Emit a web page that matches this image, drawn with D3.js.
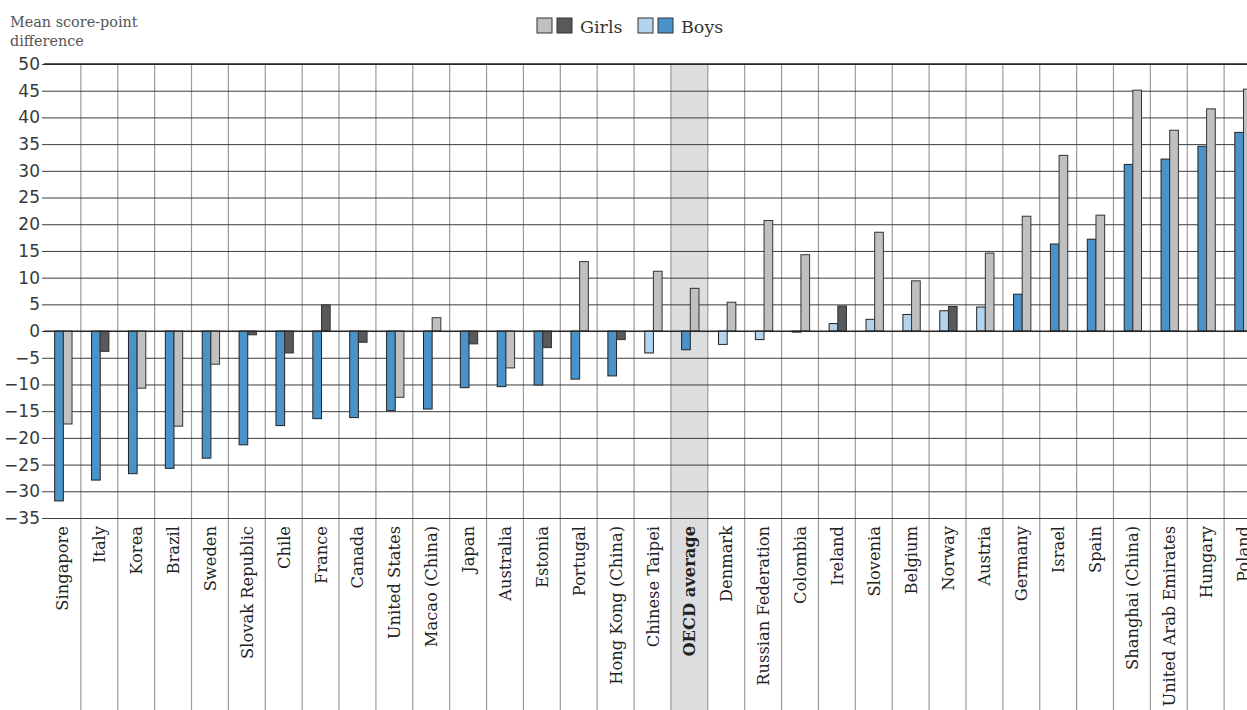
<!DOCTYPE html>
<html><head><meta charset="utf-8">
<script src="https://cdn.jsdelivr.net/npm/d3@7"></script>
<style>
html,body{margin:0;padding:0;background:#fff;overflow:hidden;}
svg{display:block;}
</style></head>
<body>
<svg id="chart" width="1247" height="710"></svg>
<script>
const countries = ["Singapore","Italy","Korea","Brazil","Sweden","Slovak Republic","Chile","France","Canada","United States","Macao (China)","Japan","Australia","Estonia","Portugal","Hong Kong (China)","Chinese Taipei","OECD average","Denmark","Russian Federation","Colombia","Ireland","Slovenia","Belgium","Norway","Austria","Germany","Israel","Spain","Shanghai (China)","United Arab Emirates","Hungary","Poland"];
const boys  = [-31.8,-27.9,-26.7,-25.7,-23.8,-21.3,-17.7,-16.4,-16.2,-14.9,-14.6,-10.6,-10.4,-10.1,-9.0,-8.4,-4.1,-3.5,-2.5,-1.6,-0.2,1.4,2.2,3.1,3.8,4.5,6.9,16.3,17.2,31.2,32.2,34.6,37.2];
const girls = [-17.4,-3.8,-10.7,-17.8,-6.2,-0.7,-4.1,4.9,-2.1,-12.4,2.5,-2.4,-6.9,-3.1,13.0,-1.6,11.2,8.0,5.4,20.7,14.3,4.7,18.5,9.4,4.6,14.6,21.5,32.9,21.7,45.1,37.6,41.6,45.3];
// 1 = dark shade, 0 = light shade
const boysDark  = [1,1,1,1,1,1,1,1,1,1,1,1,1,1,1,1,0,1,0,0,0,0,0,0,0,0,1,1,1,1,1,1,1];
const girlsDark = [0,1,0,0,0,1,1,1,1,0,0,1,0,1,0,1,0,0,0,0,0,1,0,0,1,0,0,0,0,0,0,0,0];
const yTicks = [50,45,40,35,30,25,20,15,10,5,0,-5,-10,-15,-20,-25,-30,-35];
const highlight = "OECD average";

const C = {boysDark:"#4a93c9", boysLight:"#b4d3ec", girlsDark:"#58595b", girlsLight:"#bfc0c2"};

const svg = d3.select("#chart");
const x = d3.scaleBand().domain(countries).range([44, 1261]).paddingInner(0).paddingOuter(0);
const bw = x.bandwidth();
const xs = d3.scaleBand().domain(["Boys","Girls"]).range([bw*0.29, bw*0.76]);
const y = d3.scaleLinear().domain([-35, 50]).range([518, 64]);

// highlight band
svg.append("rect").attr("x", x(highlight)).attr("y", y(50)).attr("width", bw).attr("height", 710 - y(50)).attr("fill", "#dcdddf");

// vertical gridlines
svg.append("g").selectAll("line").data(countries.slice(1).concat(["__end"])).join("line")
  .attr("x1", (d,i)=> x(countries[0]) + bw*(i+1)).attr("x2", (d,i)=> x(countries[0]) + bw*(i+1))
  .attr("y1", y(50)).attr("y2", 710)
  .attr("stroke", "#9b9b9b").attr("stroke-width", 1.2);

// horizontal gridlines via axis
const yAxis = d3.axisLeft(y).tickValues(yTicks).tickSize(-(1247-44)).tickPadding(4).tickFormat(d3.format("d"));
const ga = svg.append("g").attr("transform", "translate(44,0)").call(yAxis);
ga.select(".domain").remove();
ga.selectAll(".tick line").attr("stroke", "#3c3c3c").attr("stroke-width", 1).attr("x1", -2);
ga.selectAll(".tick text").attr("font-family", "DejaVu Sans, sans-serif").attr("font-size", 17).attr("fill", "#3a3a3a").attr("x", -4);

// bars
const rows = countries.map((c,i)=>({c, b: boys[i], g: girls[i], bd: boysDark[i], gd: girlsDark[i]}));
const gb = svg.append("g");
gb.selectAll("rect.boys").data(rows).join("rect").attr("class","boys")
  .attr("x", d=> x(d.c) + xs("Boys")).attr("width", xs.bandwidth())
  .attr("y", d=> y(Math.max(0,d.b))).attr("height", d=> Math.abs(y(d.b)-y(0)))
  .attr("fill", d=> d.bd ? C.boysDark : C.boysLight).attr("stroke", "#222").attr("stroke-width", 1);
gb.selectAll("rect.girls").data(rows).join("rect").attr("class","girls")
  .attr("x", d=> x(d.c) + xs("Girls")).attr("width", xs.bandwidth())
  .attr("y", d=> y(Math.max(0,d.g))).attr("height", d=> Math.abs(y(d.g)-y(0)))
  .attr("fill", d=> d.gd ? C.girlsDark : C.girlsLight).attr("stroke", "#333").attr("stroke-width", 1);

// zero line and top line on top
svg.append("line").attr("x1", 44).attr("x2", 1247).attr("y1", y(0)).attr("y2", y(0)).attr("stroke", "#222").attr("stroke-width", 1.2);
svg.append("line").attr("x1", 44).attr("x2", 1247).attr("y1", y(50)).attr("y2", y(50)).attr("stroke", "#222").attr("stroke-width", 1.3);

// category labels
svg.append("g").selectAll("text").data(countries).join("text")
  .attr("transform", d=> `translate(${x(d)+bw/2+6},526) rotate(-90)`)
  .attr("text-anchor", "end")
  .attr("font-family", "DejaVu Serif, serif").attr("font-size", 16.3)
  .attr("font-weight", d=> d===highlight ? "bold" : "normal")
  .attr("fill", "#222")
  .text(d=>d);

// y title
const yt = svg.append("text").attr("font-family","DejaVu Serif, serif").attr("font-size",14.4).attr("fill","#555");
yt.append("tspan").attr("x",10).attr("y",27).text("Mean score-point");
yt.append("tspan").attr("x",10).attr("y",46).text("difference");

// legend
const legend = [
  {label:"Girls", colors:[C.girlsLight, C.girlsDark], x:537},
  {label:"Boys", colors:[C.boysLight, C.boysDark], x:638}
];
const lg = svg.append("g");
legend.forEach(L=>{
  L.colors.forEach((col,j)=>{
    lg.append("rect").attr("x", L.x + j*20).attr("y", 18).attr("width", 15).attr("height", 15)
      .attr("fill", col).attr("stroke", "#333").attr("stroke-width", 1);
  });
  lg.append("text").attr("x", L.x + 43).attr("y", 33).attr("font-family","DejaVu Serif, serif")
    .attr("font-size", 17.5).attr("fill", "#333").text(L.label);
});
</script>
</body></html>
